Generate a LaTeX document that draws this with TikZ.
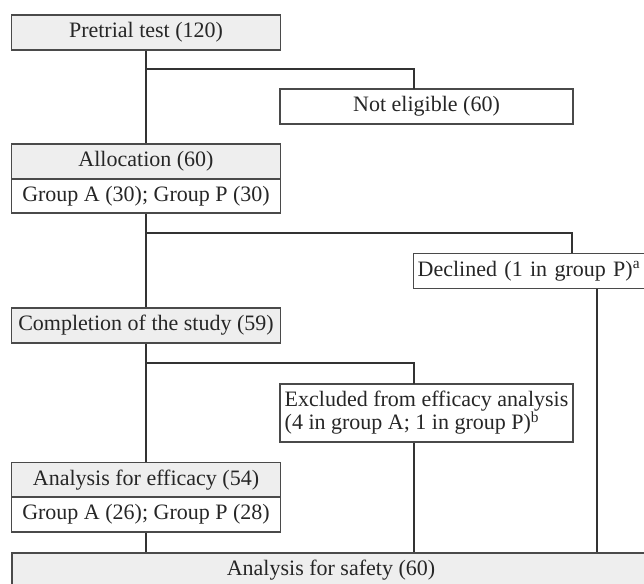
\documentclass[tikz,border=0pt]{standalone}
\usepackage{fontspec}
\setmainfont{Liberation Serif}
\usetikzlibrary{calc}
\definecolor{boxgray}{HTML}{EEEEEE}
\definecolor{edge}{HTML}{4A4A4A}
\definecolor{conncol}{HTML}{333333}
\tikzset{
  box/.style={draw=edge, line width=1.4pt, rectangle, inner sep=0pt, minimum height=35pt, font=\fontsize{22}{23}\selectfont, text=black!85},
  graybox/.style={box, fill=boxgray},
  whitebox/.style={box, fill=white},
  conn/.style={draw=conncol, line width=1.5pt}
}
\begin{document}
\begin{tikzpicture}[x=1pt, y=-1pt]
\useasboundingbox (0,0) rectangle (644,583);
\clip (0,0) rectangle (644,583);
\fill[white] (0,0) rectangle (644,583);

% junctions and entry points of the connectors
\coordinate (j1) at (146,69);
\coordinate (e1) at (414,89);
\coordinate (j2) at (146,233);
\coordinate (e2) at (572,253);
\coordinate (j3) at (146,363);
\coordinate (e3) at (414,384);
\coordinate (xd) at (597,0);

\node[graybox, minimum width=269pt] (pre) at (146,32.5) {Pretrial test (120)};
\node[whitebox, minimum width=293pt] (ne) at (426.5,106.5) {Not eligible (60)};
\node[graybox, minimum width=269pt] (alloc) at (146,161.5) {Allocation (60)};
\node[whitebox, minimum width=269pt, minimum height=34pt] (allocg) at (146,196) {Group A (30); Group P (30)};
\node[whitebox, anchor=west, text width=242pt, align=left, inner xsep=4pt] (dec) at (413,271) {Declined (1 in group P)\textsuperscript{a}};
\node[graybox, minimum width=269pt] (comp) at (146,325.5) {Completion of the study (59)};
\node[whitebox, minimum width=293pt, minimum height=58pt, align=left] (exc) at (426.5,413) {Excluded from efficacy analysis\\(4 in group A; 1 in group P)\textsuperscript{b}};
\node[graybox, minimum width=269pt] (eff) at (146,480) {Analysis for efficacy (54)};
\node[whitebox, minimum width=269pt, minimum height=35pt] (effg) at (146,514.5) {Group A (26); Group P (28)};
\node[graybox, minimum width=638pt] (saf) at (331,570.5) {Analysis for safety (60)};

\draw[conn] (pre.south) -- (alloc.north);
\draw[conn] (j1) -| (e1);
\draw[conn] (allocg.south) -- (comp.north);
\draw[conn] (j2) -| (e2);
\draw[conn] (dec.south -| xd) -- (saf.north -| xd);
\draw[conn] (comp.south) -- (eff.north);
\draw[conn] (j3) -| (e3);
\draw[conn] (exc.south -| e3) -- (saf.north -| e3);
\draw[conn] (effg.south) -- (effg.south |- saf.north);
\end{tikzpicture}
\end{document}
